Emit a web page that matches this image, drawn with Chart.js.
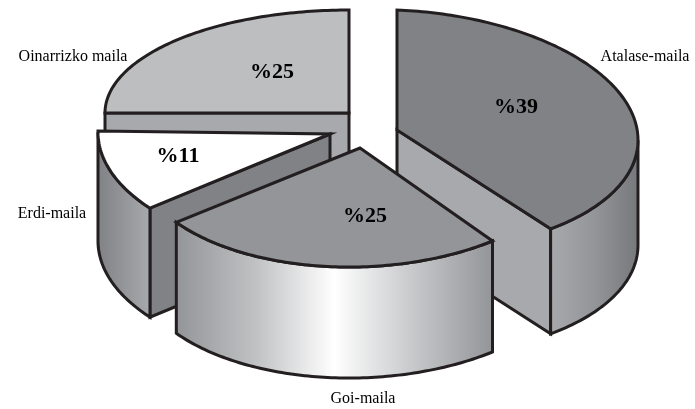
<!DOCTYPE html>
<html>
<head>
<meta charset="utf-8">
<style>
	html, body { margin: 0; padding: 0; background: #ffffff; }
	canvas { display: block; }
</style>
<script src="https://cdn.jsdelivr.net/npm/chart.js@4"></script>
</head>
<body>
<canvas id="chart" width="695" height="409"></canvas>
<script>
var categories = ['Atalase-maila', 'Goi-maila', 'Erdi-maila', 'Oinarrizko maila'];
var values = [39, 25, 11, 25];

// top face colours
var faceColors = ['#808285', '#939598', '#ffffff', '#bcbec0'];
// flat colour of the cut walls
var cutColors = ['#a7a9ac', '#a7a9ac', '#808285', '#a7a9ac'];
// left-to-right shading of the rim
var rimStops = [
	['#a7a9ac', '#939598', '#77787b'],
	['#939598', '#c0c1c3', '#ffffff', '#c6c8ca', '#939598'],
	['#808285', '#a7a9ac'],
	['#a7a9ac', '#a7a9ac']
];

// each slice is pulled out of the pie by hand
var explodeX = [35, -2, -32, -13];
var explodeY = [-6, 12, -2, -23];
var spanX = [241, 226, 232, 244];
var spanY = [120, 119, 120, 103];
var shearY = [10, 2, 3, 0];
var shearX = [0, -15, -2, 0];
var depth = [105, 111, 109, 100];

// back to front
var paintOrder = [3, 0, 2, 1];

var labelX = [645, 363, 52, 73];
var labelY = [57, 399, 214, 57];
var pctX = [516, 365, 178, 272];
var pctY = [107, 216, 156, 72];

var LINE = '#231f20';

function slicePoint(arc, i, angle, r) {
	var c = Math.cos(angle) * r;
	var s = Math.sin(angle) * r;
	return {
		x: arc.x + explodeX[i] + spanX[i] * c + shearX[i] * s,
		y: arc.y + explodeY[i] + shearY[i] * c + spanY[i] * s
	};
}

function rimPoints(arc, i, from, to) {
	var pts = [];
	var n = Math.max(2, Math.ceil((to - from) / (Math.PI / 180)));
	for (var k = 0; k <= n; k++) {
		pts.push(slicePoint(arc, i, from + (to - from) * k / n, 1));
	}
	return pts;
}

function tracePoints(ctx, pts, first) {
	pts.forEach(function(p, k) {
		if (k === 0 && first) ctx.moveTo(p.x, p.y);
		else ctx.lineTo(p.x, p.y);
	});
}

function cutWall(ctx, arc, i, angle) {
	var h = depth[i];
	var a = slicePoint(arc, i, angle, 0);
	var b = slicePoint(arc, i, angle, 1);
	ctx.beginPath();
	ctx.moveTo(a.x, a.y);
	ctx.lineTo(b.x, b.y);
	ctx.lineTo(b.x, b.y + h);
	ctx.lineTo(a.x, a.y + h);
	ctx.closePath();
	ctx.fillStyle = cutColors[i];
	ctx.fill();
	ctx.stroke();
}

function rimWall(ctx, arc, i, from, to) {
	// only the part of the rim turned towards the viewer
	var lo = null, hi = null;
	var steps = 360;
	for (var k = 0; k <= steps; k++) {
		var t = from + (to - from) * k / steps;
		if (-spanX[i] * Math.sin(t) + shearX[i] * Math.cos(t) < 0) {
			if (lo === null) lo = t;
			hi = t;
		}
	}
	if (lo === null || hi - lo < 0.01) return;

	var top = rimPoints(arc, i, lo, hi);
	var h = depth[i];
	var bottom = top.map(function(p) { return { x: p.x, y: p.y + h }; }).reverse();

	var xs = top.map(function(p) { return p.x; });
	var grad = ctx.createLinearGradient(Math.min.apply(null, xs), 0, Math.max.apply(null, xs), 0);
	var stops = rimStops[i];
	stops.forEach(function(color, k) {
		grad.addColorStop(k / (stops.length - 1), color);
	});

	ctx.beginPath();
	tracePoints(ctx, top, true);
	tracePoints(ctx, bottom, false);
	ctx.closePath();
	ctx.fillStyle = grad;
	ctx.fill();
	ctx.stroke();
}

function topFace(ctx, arc, i) {
	var R = arc.outerRadius;
	ctx.save();
	ctx.transform(
		spanX[i] / R, shearY[i] / R,
		shearX[i] / R, spanY[i] / R,
		arc.x + explodeX[i] - arc.x * spanX[i] / R - arc.y * shearX[i] / R,
		arc.y + explodeY[i] - arc.x * shearY[i] / R - arc.y * spanY[i] / R
	);
	arc.draw(ctx);
	ctx.restore();

	var apex = slicePoint(arc, i, 0, 0);
	ctx.beginPath();
	ctx.moveTo(apex.x, apex.y);
	tracePoints(ctx, rimPoints(arc, i, arc.startAngle, arc.endAngle), false);
	ctx.closePath();
	ctx.stroke();
}

var slices3d = {
	id: 'slices3d',
	beforeDatasetDraw: function() {
		return false;
	},
	afterDatasetsDraw: function(chart) {
		var ctx = chart.ctx;
		var arcs = chart.getDatasetMeta(0).data;

		ctx.save();
		ctx.strokeStyle = LINE;
		ctx.lineWidth = 3;
		ctx.lineJoin = 'miter';

		paintOrder.forEach(function(i) {
			var arc = arcs[i];
			if (Math.cos(arc.startAngle) < -1e-6) cutWall(ctx, arc, i, arc.startAngle);
			if (Math.cos(arc.endAngle) > 1e-6) cutWall(ctx, arc, i, arc.endAngle);
			rimWall(ctx, arc, i, arc.startAngle, arc.endAngle);
			topFace(ctx, arc, i);
		});

		ctx.fillStyle = '#000000';
		ctx.textAlign = 'center';
		ctx.textBaseline = 'middle';
		ctx.font = '16px "Liberation Serif"';
		categories.forEach(function(name, i) {
			ctx.fillText(name, labelX[i], labelY[i]);
		});
		ctx.font = 'bold 22px "Liberation Serif"';
		values.forEach(function(v, i) {
			ctx.fillText('%' + v, pctX[i], pctY[i]);
		});
		ctx.restore();
	}
};

new Chart(document.getElementById('chart'), {
	type: 'pie',
	data: {
		labels: categories,
		datasets: [
			{
				data: values,
				backgroundColor: faceColors,
				borderWidth: 0,
				offset: 0
			}
		]
	},
	options: {
		responsive: false,
		animation: false,
		// pie centre sits above the middle of the canvas
		layout: { padding: { left: 29, bottom: 137 } },
		plugins: {
			legend: { display: false },
			tooltip: { enabled: false }
		}
	},
	plugins: [slices3d]
});
</script>
</body>
</html>
